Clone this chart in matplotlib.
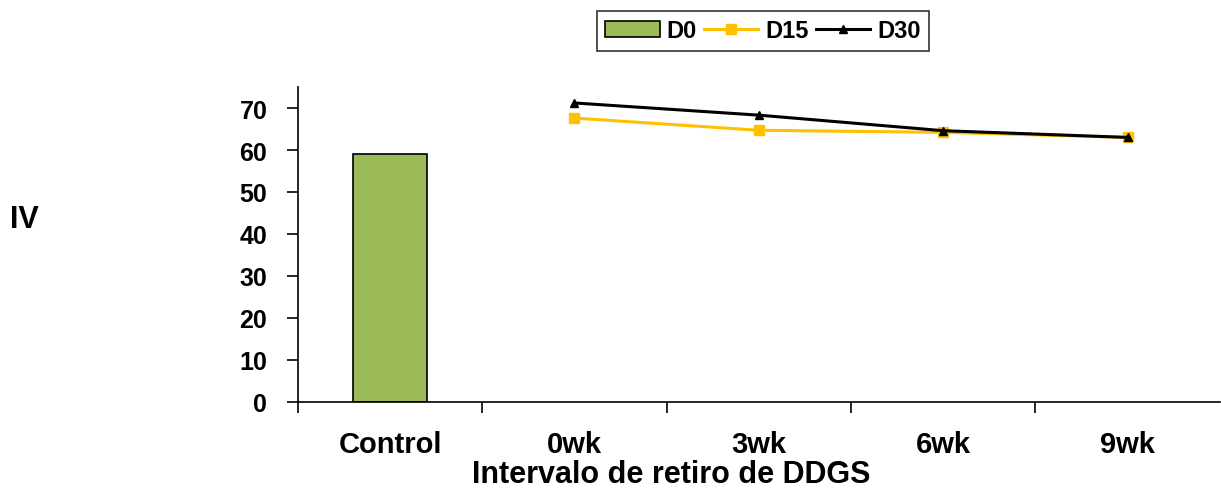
import numpy as np
import matplotlib.pyplot as plt

plt.rcParams['font.family'] = ['Liberation Sans', 'DejaVu Sans']
plt.rcParams['font.weight'] = 'bold'

categories = ['Control', '0wk', '3wk', '6wk', '9wk']
d0 = [59.0]
d15 = [67.6, 64.7, 64.2, 63.0]
d30 = [71.2, 68.3, 64.6, 63.0]

fig = plt.figure(figsize=(12.21, 4.89), dpi=100)
ax = fig.add_axes([0.244, 0.176, 0.755, 0.644])

x = np.arange(len(categories))
b0 = ax.bar(x[:1], d0, width=0.4, color='#9BBB59', edgecolor='black', linewidth=1.2, label='D0')
l15, = ax.plot(x[1:], d15, color='#FFC000', linewidth=2.2, marker='s', markersize=7.5, label='D15')
l30, = ax.plot(x[1:], d30, color='black', linewidth=2.2, marker='^', markersize=6, label='D30')

ax.set_xlim(-0.5, 4.5)
ax.set_ylim(0, 75)
ax.set_yticks(range(0, 71, 10))
ax.set_xticks(x)
ax.set_xticklabels(categories, fontsize=21, fontweight='bold')
ax.set_xticks(np.arange(-0.5, 4.0, 1.0), minor=True)
ax.tick_params(axis='x', which='major', length=0, pad=20)
ax.tick_params(axis='x', which='minor', length=8, width=1.2, direction='out')
ax.tick_params(axis='y', length=8, width=1.2, labelsize=18, pad=14)
for lbl in ax.get_yticklabels():
    lbl.set_fontweight('bold')

ax.spines['top'].set_visible(False)
ax.spines['right'].set_visible(False)
ax.spines['left'].set_linewidth(1.2)
ax.spines['bottom'].set_linewidth(1.2)

fig.text(0.55, 0.029, 'Intervalo de retiro de DDGS', fontsize=22, fontweight='bold',
         ha='center', va='center')
fig.text(0.008, 0.55, 'IV', fontsize=22, fontweight='bold', va='center', ha='left')

leg = fig.legend(handles=[b0, l15, l30], loc='center', bbox_to_anchor=(0.625, 0.935),
                 ncol=3, frameon=True, fancybox=False, edgecolor='black', fontsize=17,
                 handlelength=2.3, handletextpad=0.3, columnspacing=0.3, borderpad=0.35)
leg.get_frame().set_linewidth(1.2)
for t in leg.get_texts():
    t.set_fontweight('bold')

fig.savefig('out.png', dpi=100)
